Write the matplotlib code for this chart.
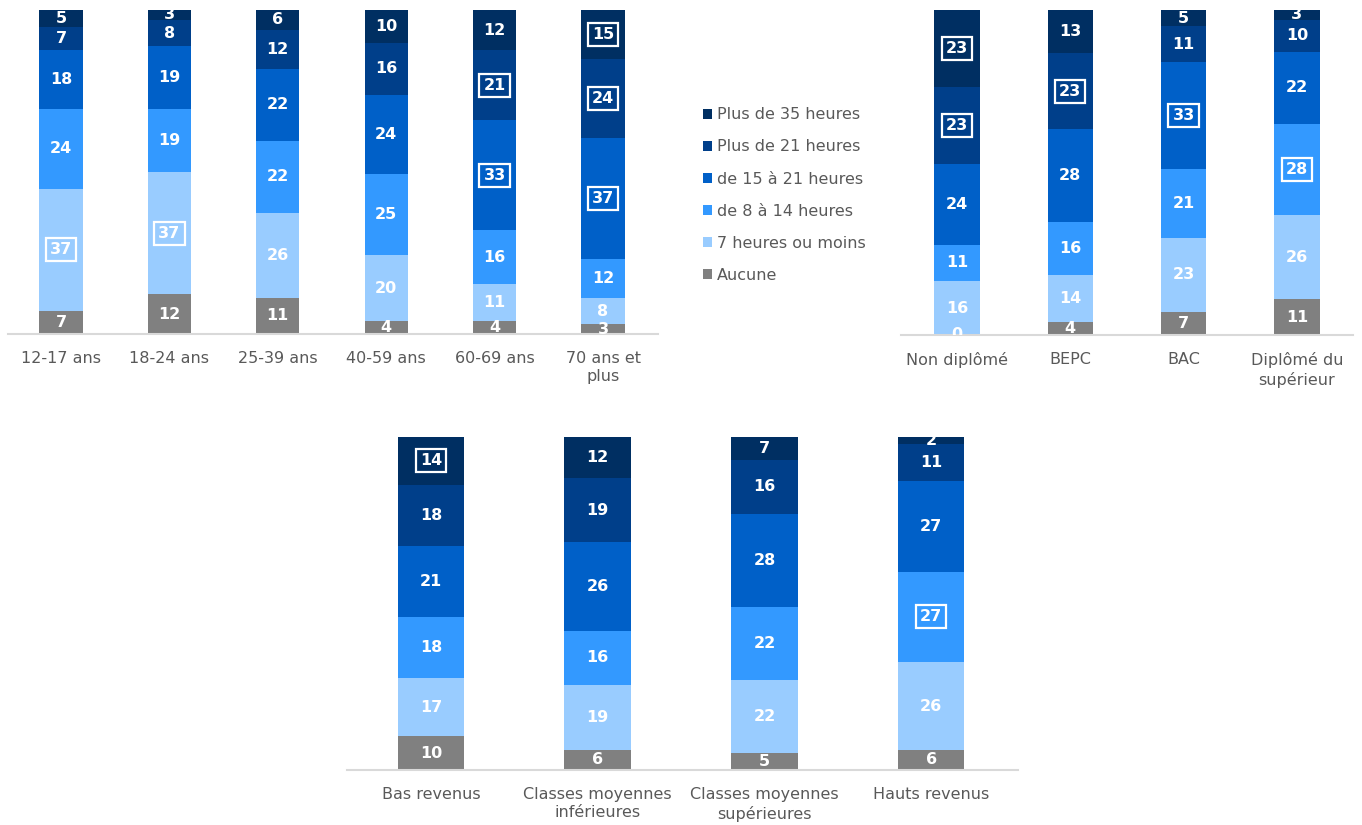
import matplotlib
matplotlib.use("Agg")
import matplotlib.pyplot as plt
from matplotlib.patches import Patch
import numpy as np

series_names = ["Aucune", "7 heures ou moins", "de 8 à 14 heures",
                "de 15 à 21 heures", "Plus de 21 heures", "Plus de 35 heures"]
colors = ["#808080", "#99ccff", "#3399ff", "#0060c8", "#003f8a", "#002f62"]

# Panel 1: age
age_cats = ["12-17 ans", "18-24 ans", "25-39 ans", "40-59 ans", "60-69 ans", "70 ans et\nplus"]
age_aucune = [7, 12, 11, 4, 4, 3]
age_7h = [37, 37, 26, 20, 11, 8]
age_8_14 = [24, 19, 22, 25, 16, 12]
age_15_21 = [18, 19, 22, 24, 33, 37]
age_21p = [7, 8, 12, 16, 21, 24]
age_35p = [5, 3, 6, 10, 12, 15]
age_boxed = [(0, 1), (1, 1), (4, 3), (4, 4), (5, 3), (5, 4), (5, 5)]

# Panel 2: diploma
dip_cats = ["Non diplômé", "BEPC", "BAC", "Diplômé du\nsupérieur"]
dip_aucune = [0, 4, 7, 11]
dip_7h = [16, 14, 23, 26]
dip_8_14 = [11, 16, 21, 28]
dip_15_21 = [24, 28, 33, 22]
dip_21p = [23, 23, 11, 10]
dip_35p = [23, 13, 5, 3]
dip_boxed = [(0, 4), (0, 5), (1, 4), (2, 3), (3, 2)]

# Panel 3: income
inc_cats = ["Bas revenus", "Classes moyennes\ninférieures",
            "Classes moyennes\nsupérieures", "Hauts revenus"]
inc_aucune = [10, 6, 5, 6]
inc_7h = [17, 19, 22, 26]
inc_8_14 = [18, 16, 22, 27]
inc_15_21 = [21, 26, 28, 27]
inc_21p = [18, 19, 16, 11]
inc_35p = [14, 12, 7, 2]
inc_boxed = [(0, 5), (3, 2)]

FS = 11.5
TXT = "#595959"

fig = plt.figure(figsize=(13.62, 8.25), dpi=100)
W, H = 1362, 825


def make_ax(x0, x1, ybot, ytop):
    return fig.add_axes([x0 / W, 1 - ybot / H, (x1 - x0) / W, (ybot - ytop) / H])


def draw(ax, cats, data, boxed, xlim):
    data = np.array(data, dtype=float)
    totals = data.sum(axis=0)
    pct = data / totals * 100
    x = np.arange(len(cats))
    bottom = np.zeros(len(cats))
    for s in range(data.shape[0]):
        ax.bar(x, pct[s], 0.4, bottom=bottom, color=colors[s], linewidth=0)
        for i in range(len(cats)):
            yc = bottom[i] + pct[s][i] / 2
            kw = {}
            if (i, s) in boxed:
                kw["bbox"] = dict(boxstyle="square,pad=0.25", fc="none", ec="white", lw=1.6)
            ax.text(x[i], yc, f"{int(data[s][i])}", ha="center", va="center",
                    color="white", fontsize=FS, fontweight="bold", clip_on=True, **kw)
        bottom += pct[s]
    ax.set_xlim(*xlim)
    ax.set_ylim(0, 100)
    ax.set_xticks(x)
    ax.set_xticklabels(cats, fontsize=FS, color=TXT, linespacing=1.3)
    ax.tick_params(axis="x", length=0, pad=12)
    ax.set_yticks([])
    for sp in ["top", "right", "left"]:
        ax.spines[sp].set_visible(False)
    ax.spines["bottom"].set_color("#d9d9d9")
    ax.spines["bottom"].set_linewidth(1.5)
    ax.patch.set_alpha(0)


ax1 = make_ax(8, 658, 334, 10)
draw(ax1, age_cats, [age_aucune, age_7h, age_8_14, age_15_21, age_21p, age_35p],
     age_boxed, ((8 - 61) / 108.4, (658 - 61) / 108.4))

ax2 = make_ax(901, 1353, 335, 10)
draw(ax2, dip_cats, [dip_aucune, dip_7h, dip_8_14, dip_15_21, dip_21p, dip_35p],
     dip_boxed, ((901 - 957) / 113.3, (1353 - 957) / 113.3))

ax3 = make_ax(347, 1018, 770, 437)
draw(ax3, inc_cats, [inc_aucune, inc_7h, inc_8_14, inc_15_21, inc_21p, inc_35p],
     inc_boxed, ((347 - 431) / 166.7, (1018 - 431) / 166.7))

handles = [Patch(facecolor=colors[s], edgecolor="none", label=series_names[s])
           for s in range(5, -1, -1)]
leg = fig.legend(handles=handles, loc="upper left", bbox_to_anchor=(697 / W, 1 - 101 / H),
                 frameon=False, fontsize=FS, labelcolor=TXT, handlelength=0.55,
                 handleheight=0.55, handletextpad=0.3, labelspacing=1.07, borderaxespad=0)

fig.savefig("out.png", dpi=100, facecolor="white")
